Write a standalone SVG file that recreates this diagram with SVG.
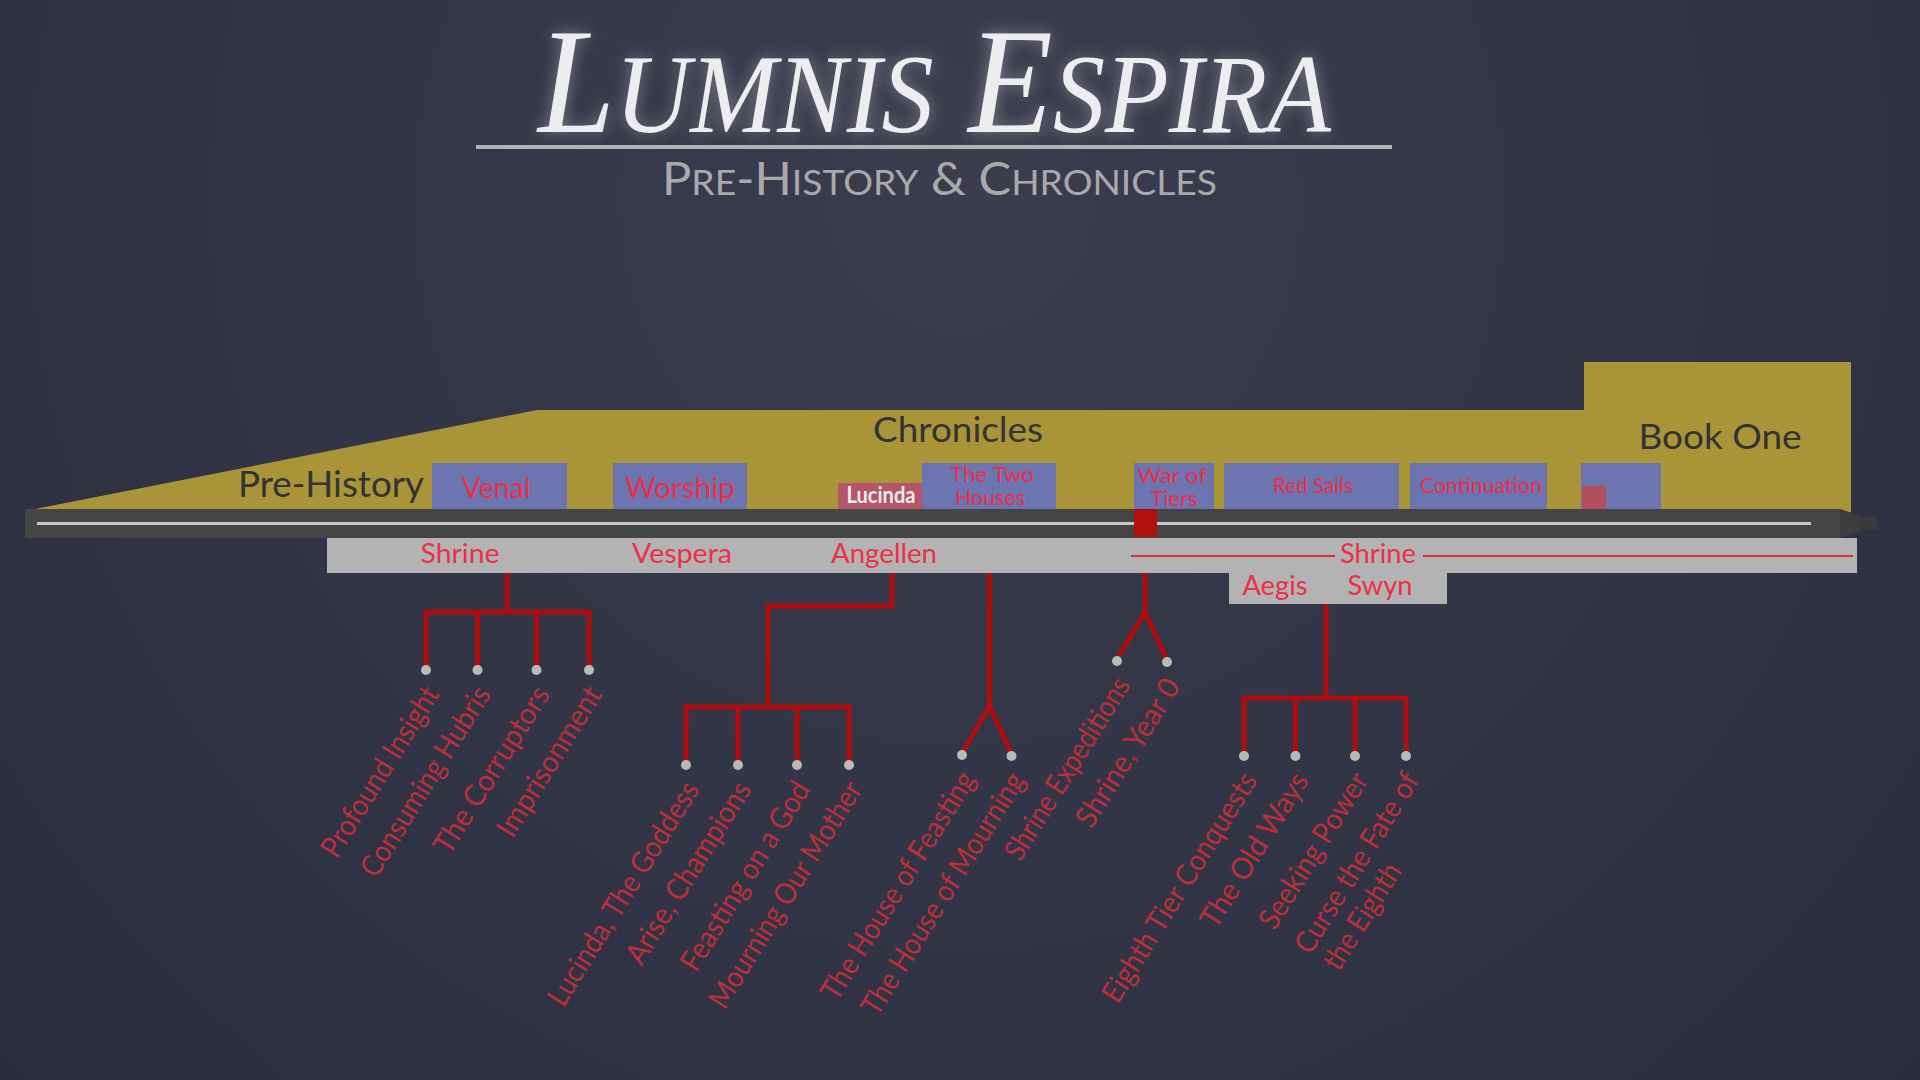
<svg xmlns="http://www.w3.org/2000/svg" width="1920" height="1080" viewBox="0 0 1920 1080">
<defs>
<radialGradient id="bg" cx="960" cy="200" r="1300" gradientUnits="userSpaceOnUse">
<stop offset="0" stop-color="#3b3d4d"/>
<stop offset="0.6" stop-color="#303445"/>
<stop offset="1" stop-color="#292d3d"/>
</radialGradient>
<filter id="glow" x="-20%" y="-50%" width="140%" height="200%">
<feGaussianBlur in="SourceAlpha" stdDeviation="8" result="b"/>
<feFlood flood-color="#ffffff" flood-opacity="0.35"/>
<feComposite in2="b" operator="in" result="g"/>
<feMerge><feMergeNode in="g"/><feMergeNode in="SourceGraphic"/></feMerge>
</filter>
<style>
.sans{font-family:Lato,"Open Sans","Liberation Sans",sans-serif}
.dark{fill:#333333}
.box{fill:#6c75b0}
.btxt{fill:#ec2f4b;text-anchor:middle}
.gtxt{fill:#ec2f4b;font-size:27px;text-anchor:middle}
.lbl{fill:#ba2f3b;font-size:30px;text-anchor:end;dominant-baseline:central}
.dot{fill:#b9b9b9}
.con{fill:none;stroke:#b00e0e;stroke-width:5;stroke-linejoin:miter}
</style>
</defs>
<rect width="1920" height="1080" fill="#2e3243"/>
<rect width="1920" height="1080" fill="url(#bg)"/>

<g id="title">
<text x="538" y="132" filter="url(#glow)" font-family="Liberation Serif,serif" font-style="italic" fill="#ededf1" font-size="150" textLength="793" lengthAdjust="spacingAndGlyphs">L<tspan font-size="113">UMNIS</tspan> E<tspan font-size="113">SPIRA</tspan></text>
<rect x="476" y="145" width="916" height="4" fill="#b2b2b6"/>
<text x="662" y="195" class="sans" fill="#a9a9ad" font-size="46" textLength="555" lengthAdjust="spacingAndGlyphs">P<tspan font-size="35">RE</tspan>-H<tspan font-size="35">ISTORY</tspan> &amp; C<tspan font-size="35">HRONICLES</tspan></text>
</g>

<g id="eras">
<polygon points="35,509 537,410 1584,410 1584,362 1851,362 1851,512 35,512" fill="#aa9438"/>
<text x="424" y="497" class="sans dark" font-size="36" text-anchor="end" textLength="186" lengthAdjust="spacingAndGlyphs">Pre-History</text>
<text x="958" y="442" class="sans dark" font-size="35" text-anchor="middle" textLength="170" lengthAdjust="spacingAndGlyphs">Chronicles</text>
<text x="1720" y="449" class="sans dark" font-size="34" text-anchor="middle" textLength="163" lengthAdjust="spacingAndGlyphs">Book One</text>
</g>

<g id="books" class="sans">
<g id="venal"><rect class="box" x="432" y="463" width="135" height="46"/><text class="btxt" x="496" y="498" font-size="29" textLength="69" lengthAdjust="spacingAndGlyphs">Venal</text></g>
<g id="worship"><rect class="box" x="613" y="463" width="134" height="46"/><text class="btxt" x="680" y="498" font-size="29" textLength="110" lengthAdjust="spacingAndGlyphs">Worship</text></g>
<g id="lucinda"><rect x="838" y="483" width="84" height="26" fill="#b5556a"/><text x="881" y="503" font-size="22" font-weight="bold" fill="#ececec" text-anchor="middle" textLength="69" lengthAdjust="spacingAndGlyphs">Lucinda</text></g>
<g id="two-houses"><rect class="box" x="922" y="463" width="134" height="46"/><text class="btxt" x="992" y="482" font-size="22" textLength="84" lengthAdjust="spacingAndGlyphs">The Two</text><text class="btxt" x="990" y="505" font-size="22" textLength="70" lengthAdjust="spacingAndGlyphs">Houses</text></g>
<g id="war-of-tiers"><rect class="box" x="1134" y="463" width="80" height="46"/><text class="btxt" x="1172" y="483" font-size="22" textLength="69" lengthAdjust="spacingAndGlyphs">War of</text><text class="btxt" x="1174" y="506" font-size="22" textLength="47" lengthAdjust="spacingAndGlyphs">Tiers</text></g>
<g id="red-sails"><rect class="box" x="1224" y="463" width="175" height="46"/><text class="btxt" x="1313" y="493" font-size="22" textLength="80" lengthAdjust="spacingAndGlyphs">Red Sails</text></g>
<g id="continuation"><rect class="box" x="1410" y="463" width="137" height="46"/><text class="btxt" x="1481" y="493" font-size="22" textLength="122" lengthAdjust="spacingAndGlyphs">Continuation</text></g>
<g id="untitled"><rect class="box" x="1581" y="463" width="80" height="46"/><rect x="1582" y="486" width="24" height="23" fill="#b0505f"/></g>
</g>

<g id="timeline">
<rect x="25" y="509" width="1815" height="29" fill="#454545"/>
<polygon points="1840,509 1861,516 1861,531 1840,538" fill="#3d3d3d"/>
<rect x="1861" y="517" width="17" height="13" fill="#3a3a3a"/>
<rect x="37" y="522" width="1774" height="3" fill="#c6c6c6"/>
<rect x="1134" y="509" width="23" height="28" fill="#b0100c"/>
</g>

<g id="locations" class="sans">
<rect x="327" y="538" width="1530" height="35" fill="#b3b3b3"/>
<rect x="1229" y="573" width="218" height="31" fill="#b3b3b3"/>
<text class="gtxt" x="460" y="563" textLength="79" lengthAdjust="spacingAndGlyphs">Shrine</text>
<text class="gtxt" x="682" y="563" textLength="100" lengthAdjust="spacingAndGlyphs">Vespera</text>
<text class="gtxt" x="884" y="563" textLength="106" lengthAdjust="spacingAndGlyphs">Angellen</text>
<line x1="1131" y1="556" x2="1335" y2="556" stroke="#d8303f" stroke-width="2"/>
<line x1="1423" y1="556" x2="1853" y2="556" stroke="#d8303f" stroke-width="2"/>
<text class="gtxt" x="1378" y="563" textLength="76" lengthAdjust="spacingAndGlyphs">Shrine</text>
<text class="gtxt" x="1275" y="595" textLength="65" lengthAdjust="spacingAndGlyphs">Aegis</text>
<text class="gtxt" x="1380" y="595" textLength="65" lengthAdjust="spacingAndGlyphs">Swyn</text>
</g>

<g id="connectors" class="con">
<path d="M507,573 V612 M426,668 V612 H589 V668 M477.5,612 V668 M536.5,612 V668"/>
<path d="M892,573 V606 H768 V707 M686,763 V707 H849 V763 M738,707 V763 M797,707 V763"/>
<path d="M989.5,573 V706 M962,753 L989.5,706 L1011.5,754"/>
<path d="M1145,573 V612 M1117,659 L1145,612 L1167,660"/>
<path d="M1326,604 V698 M1244,754 V698 H1406 V754 M1295.5,698 V754 M1355,698 V754"/>
</g>

<g id="dots">
<circle class="dot" cx="426" cy="670" r="5"/><circle class="dot" cx="477.5" cy="670" r="5"/><circle class="dot" cx="536.5" cy="670" r="5"/><circle class="dot" cx="589" cy="670" r="5"/>
<circle class="dot" cx="686" cy="765" r="5"/><circle class="dot" cx="738" cy="765" r="5"/><circle class="dot" cx="797" cy="765" r="5"/><circle class="dot" cx="849" cy="765" r="5"/>
<circle class="dot" cx="962" cy="755" r="5"/><circle class="dot" cx="1011.5" cy="756" r="5"/>
<circle class="dot" cx="1117" cy="661" r="5"/><circle class="dot" cx="1167" cy="662" r="5"/>
<circle class="dot" cx="1244" cy="756" r="5"/><circle class="dot" cx="1295.5" cy="756" r="5"/><circle class="dot" cx="1355" cy="756" r="5"/><circle class="dot" cx="1406" cy="756" r="5"/>
</g>

<g id="chapters" class="sans">
<g id="ch-profound-insight" transform="translate(430,688) rotate(-58)"><text class="lbl" textLength="195" lengthAdjust="spacingAndGlyphs">Profound Insight</text></g>
<g id="ch-consuming-hubris" transform="translate(481.5,688) rotate(-58)"><text class="lbl" textLength="218" lengthAdjust="spacingAndGlyphs">Consuming Hubris</text></g>
<g id="ch-the-corruptors" transform="translate(540.5,688) rotate(-58)"><text class="lbl" textLength="191" lengthAdjust="spacingAndGlyphs">The Corruptors</text></g>
<g id="ch-imprisonment" transform="translate(593,688) rotate(-58)"><text class="lbl" textLength="171" lengthAdjust="spacingAndGlyphs">Imprisonment</text></g>
<g id="ch-lucinda-the-goddess" transform="translate(690,783) rotate(-58)"><text class="lbl" textLength="258" lengthAdjust="spacingAndGlyphs">Lucinda, The Goddess</text></g>
<g id="ch-arise-champions" transform="translate(742,783) rotate(-58)"><text class="lbl" textLength="209" lengthAdjust="spacingAndGlyphs">Arise, Champions</text></g>
<g id="ch-feasting-on-a-god" transform="translate(801,783) rotate(-58)"><text class="lbl" textLength="217" lengthAdjust="spacingAndGlyphs">Feasting on a God</text></g>
<g id="ch-mourning-our-mother" transform="translate(853,783) rotate(-58)"><text class="lbl" textLength="261" lengthAdjust="spacingAndGlyphs">Mourning Our Mother</text></g>
<g id="ch-house-of-feasting" transform="translate(966,773) rotate(-58)"><text class="lbl" textLength="263" lengthAdjust="spacingAndGlyphs">The House of Feasting</text></g>
<g id="ch-house-of-mourning" transform="translate(1015.5,774) rotate(-58)"><text class="lbl" textLength="280" lengthAdjust="spacingAndGlyphs">The House of Mourning</text></g>
<g id="ch-shrine-expeditions" transform="translate(1121,679) rotate(-58)"><text class="lbl" textLength="209" lengthAdjust="spacingAndGlyphs">Shrine Expeditions</text></g>
<g id="ch-shrine-year-0" transform="translate(1171,680) rotate(-58)"><text class="lbl" textLength="169" lengthAdjust="spacingAndGlyphs">Shrine, Year 0</text></g>
<g id="ch-eighth-tier-conquests" transform="translate(1248,774) rotate(-58)"><text class="lbl" textLength="265" lengthAdjust="spacingAndGlyphs">Eighth Tier Conquests</text></g>
<g id="ch-the-old-ways" transform="translate(1299.5,774) rotate(-58)"><text class="lbl" textLength="177" lengthAdjust="spacingAndGlyphs">The Old Ways</text></g>
<g id="ch-seeking-power" transform="translate(1359,774) rotate(-58)"><text class="lbl" textLength="178" lengthAdjust="spacingAndGlyphs">Seeking Power</text></g>
<g id="ch-curse-the-fate" transform="translate(1410,774) rotate(-58)"><text class="lbl" style="text-anchor:start" x="-207" textLength="207" lengthAdjust="spacingAndGlyphs">Curse the Fate of</text><text class="lbl" style="text-anchor:start" x="-206" y="33" textLength="120" lengthAdjust="spacingAndGlyphs">the Eighth</text></g>
</g>
</svg>
